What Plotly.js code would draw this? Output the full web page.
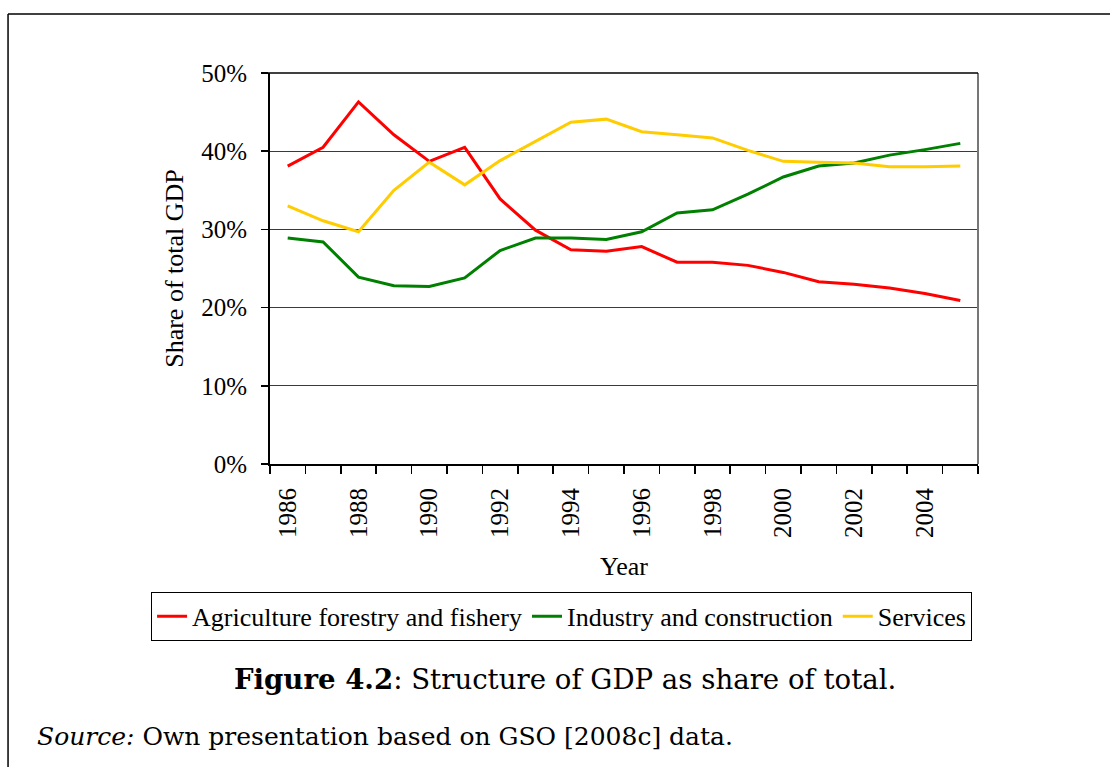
<!DOCTYPE html>
<html>
<head>
<meta charset="utf-8">
<script src="https://cdn.plot.ly/plotly-3.0.1.min.js"></script>
<style>
  html, body { margin: 0; padding: 0; background: #fff; }
  #chart { width: 1110px; height: 767px; }
</style>
</head>
<body>
<div id="chart"></div>
<script>
const years = [1986,1987,1988,1989,1990,1991,1992,1993,1994,1995,1996,1997,1998,1999,2000,2001,2002,2003,2004,2005];
const agriculture = [38.1,40.5,46.3,42.1,38.7,40.5,33.9,29.9,27.4,27.2,27.8,25.8,25.8,25.4,24.5,23.3,23.0,22.5,21.8,20.9];
const industry = [28.9,28.4,23.9,22.8,22.7,23.8,27.3,28.9,28.9,28.7,29.7,32.1,32.5,34.5,36.7,38.1,38.5,39.5,40.2,41.0];
const services = [33.0,31.1,29.7,35.0,38.6,35.7,38.8,41.2,43.7,44.1,42.5,42.1,41.7,40.1,38.7,38.6,38.5,38.0,38.0,38.1];
const seriesNames = ['Agriculture forestry and fishery','Industry and construction','Services'];
const yTicks = [0,10,20,30,40,50];

const serif = 'Liberation Serif, Times New Roman, serif';
const capFont = 'DejaVu Serif, serif';

const traces = [
  {x: years, y: agriculture, name: seriesNames[0], type: 'scatter', mode: 'lines', line: {color: '#ff0000', width: 3}},
  {x: years, y: industry, name: seriesNames[1], type: 'scatter', mode: 'lines', line: {color: '#008000', width: 3}},
  {x: years, y: services, name: seriesNames[2], type: 'scatter', mode: 'lines', line: {color: '#ffcc00', width: 3}}
];

const layout = {
  width: 1110, height: 767,
  margin: {l: 270, r: 132, t: 73, b: 303},
  paper_bgcolor: '#fff', plot_bgcolor: '#fff',
  font: {family: serif, color: '#000', size: 25},
  showlegend: true,
  legend: {
    orientation: 'h', x: -0.168, xanchor: 'left', y: -0.327, yanchor: 'top',
    bordercolor: '#000', borderwidth: 1, font: {family: serif, size: 26, color: '#000'},
    itemwidth: 30, tracegroupgap: 0, bgcolor: '#fff'
  },
  xaxis: {
    range: [years[0] - 0.5, years[years.length - 1] + 0.5],
    tickmode: 'linear', tick0: years[0], dtick: 2,
    ticks: '', tickangle: -90, ticklabelstandoff: 12,
    tickfont: {family: serif, size: 25, color: '#000'},
    showgrid: false, zeroline: false,
    showline: true, linecolor: '#000', linewidth: 2,
    minor: {tickmode: 'linear', tick0: years[0] - 0.5, dtick: 1, ticks: 'outside', ticklen: 8, tickcolor: '#000', tickwidth: 1.5, showgrid: false},
    title: {text: 'Year', font: {family: serif, size: 26, color: '#000'}, standoff: 20}
  },
  yaxis: {
    range: [0, 50], tickmode: 'array', tickvals: yTicks, ticktext: yTicks.map(v => v + '%'),
    ticks: 'outside', ticklen: 7, tickcolor: '#000', tickwidth: 1.5, ticklabelstandoff: 9,
    tickfont: {family: serif, size: 25, color: '#000'},
    showgrid: true, gridcolor: '#3a3a3a', gridwidth: 1, zeroline: false,
    showline: true, linecolor: '#000', linewidth: 2,
    title: {text: 'Share of total GDP', font: {family: serif, size: 26, color: '#000'}, standoff: 10}
  },
  shapes: [
    {type: 'line', xref: 'paper', yref: 'paper', x0: 1, x1: 1, y0: 0, y1: 1, line: {color: '#777', width: 2}},
    {type: 'line', xref: 'paper', yref: 'paper', x0: -0.01, x1: 1, y0: 1, y1: 1, line: {color: '#000', width: 1.5}},
    {type: 'line', xref: 'paper', yref: 'paper', x0: -0.370, x1: 1.19, y0: 1.1509, y1: 1.1509, line: {color: '#000', width: 1.5}},
    {type: 'line', xref: 'paper', yref: 'paper', x0: -0.370, x1: -0.370, y0: 1.1509, y1: -0.78, line: {color: '#000', width: 1.5}}
  ],
  annotations: [
    {xref: 'paper', yref: 'paper', x: 0.4167, y: -0.5524, xanchor: 'center', yanchor: 'middle', showarrow: false,
     text: '<b>Figure 4.2</b>: Structure of GDP as share of total.', font: {family: capFont, size: 27.6, color: '#000'}},
    {xref: 'paper', yref: 'paper', x: -0.3319, y: -0.698, xanchor: 'left', yanchor: 'middle', showarrow: false,
     text: '<i>Source:</i> Own presentation based on GSO [2008c] data.', font: {family: capFont, size: 25, color: '#000'}}
  ]
};

Plotly.newPlot('chart', traces, layout, {displayModeBar: false, staticPlot: true});
</script>
</body>
</html>
